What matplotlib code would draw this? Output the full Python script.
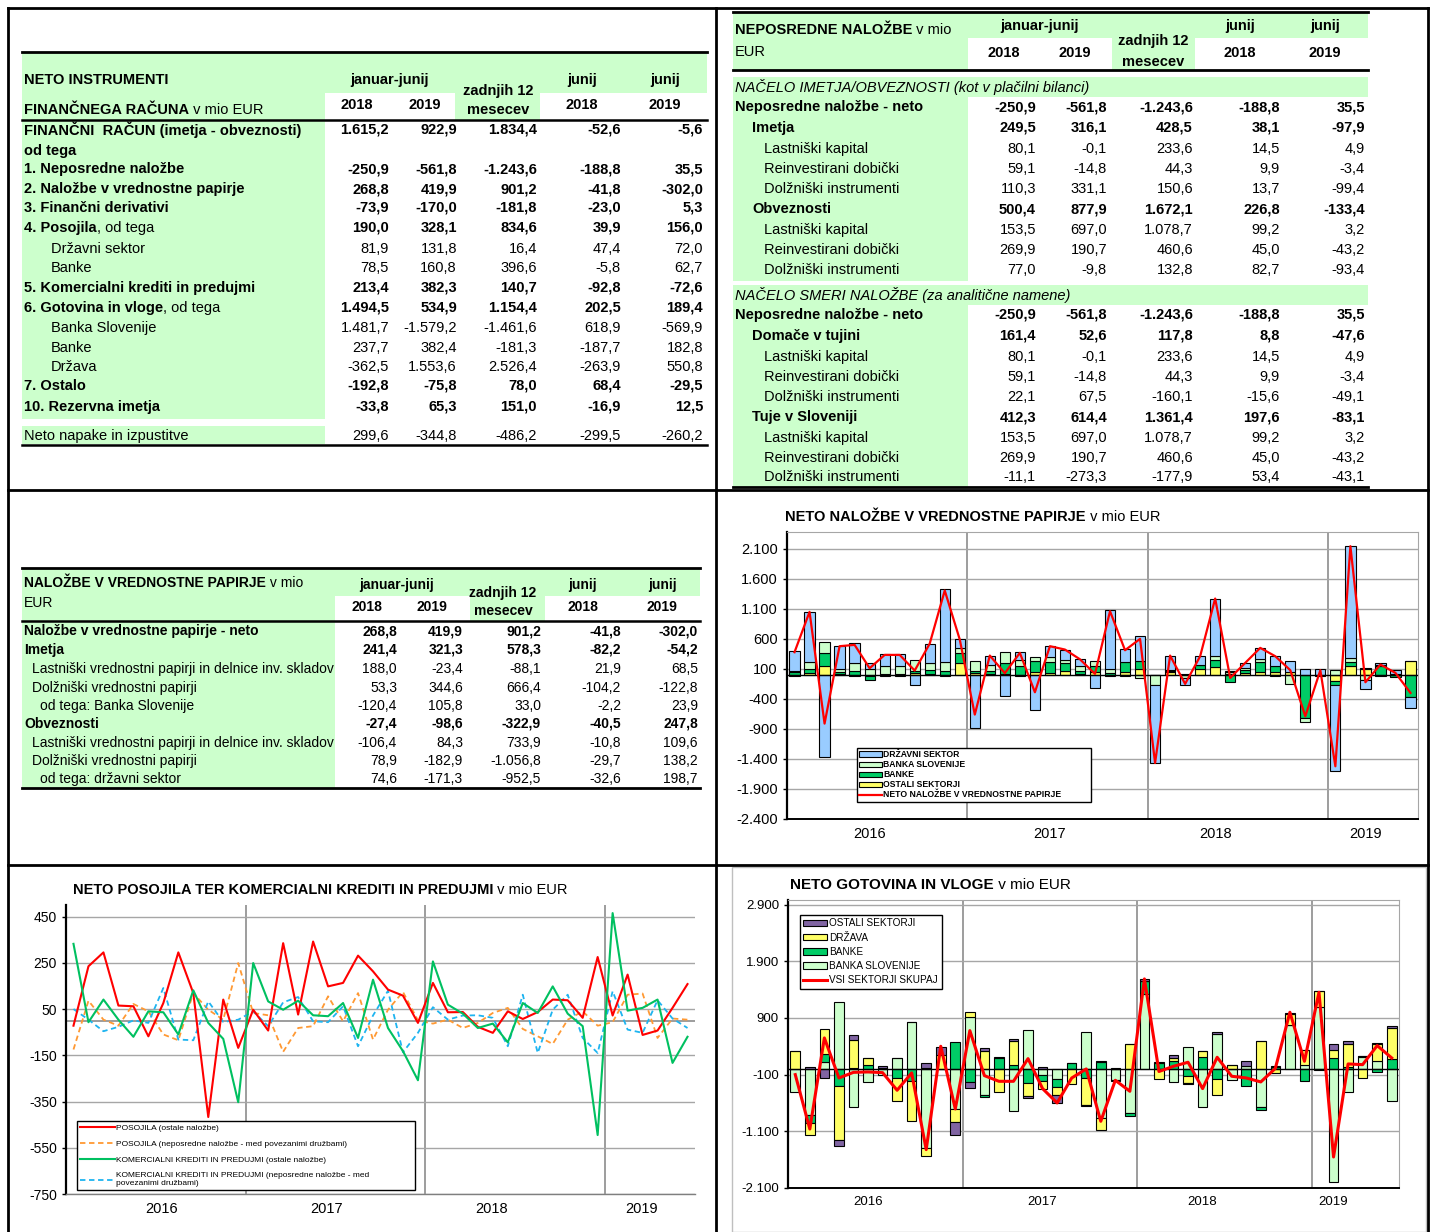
import matplotlib
matplotlib.use('Agg')
import matplotlib.pyplot as plt
from matplotlib.patches import Rectangle
from matplotlib.lines import Line2D
from matplotlib import font_manager
import numpy as np

# ---------------- DATA ----------------
cols_hdr = ["2018", "2019", "2018", "2019"]

# Top-left table: NETO INSTRUMENTI FINANČNEGA RAČUNA
tl_labels = ["FINANČNI  RAČUN (imetja - obveznosti)", "od tega", "1. Neposredne naložbe",
             "2. Naložbe v vrednostne papirje", "3. Finančni derivativi", "4. Posojila",
             "Državni sektor", "Banke", "5. Komercialni krediti in predujmi",
             "6. Gotovina in vloge", "Banka Slovenije", "Banke", "Država", "7. Ostalo",
             "10. Rezervna imetja", "Neto napake in izpustitve"]
tl_suffix = ["", "", "", "", "", ", od tega", "", "", "", ", od tega", "", "", "", "", "", ""]
tl_bold = [1, 1, 1, 1, 1, 1, 0, 0, 1, 1, 0, 0, 0, 1, 1, 0]
tl_jj2018 = [1615.2, None, -250.9, 268.8, -73.9, 190.0, 81.9, 78.5, 213.4, 1494.5, 1481.7, 237.7, -362.5, -192.8, -33.8, 299.6]
tl_jj2019 = [922.9, None, -561.8, 419.9, -170.0, 328.1, 131.8, 160.8, 382.3, 534.9, -1579.2, 382.4, 1553.6, -75.8, 65.3, -344.8]
tl_12m = [1834.4, None, -1243.6, 901.2, -181.8, 834.6, 16.4, 396.6, 140.7, 1154.4, -1461.6, -181.3, 2526.4, 78.0, 151.0, -486.2]
tl_j2018 = [-52.6, None, -188.8, -41.8, -23.0, 39.9, 47.4, -5.8, -92.8, 202.5, 618.9, -187.7, -263.9, 68.4, -16.9, -299.5]
tl_j2019 = [-5.6, None, 35.5, -302.0, 5.3, 156.0, 72.0, 62.7, -72.6, 189.4, -569.9, 182.8, 550.8, -29.5, 12.5, -260.2]

# Top-right table: NEPOSREDNE NALOŽBE
tr_labels = ["NAČELO IMETJA/OBVEZNOSTI (kot v plačilni bilanci)", "Neposredne naložbe - neto", "Imetja",
             "Lastniški kapital", "Reinvestirani dobički", "Dolžniški instrumenti", "Obveznosti",
             "Lastniški kapital", "Reinvestirani dobički", "Dolžniški instrumenti",
             "NAČELO SMERI NALOŽBE (za analitične namene)", "Neposredne naložbe - neto", "Domače v tujini",
             "Lastniški kapital", "Reinvestirani dobički", "Dolžniški instrumenti", "Tuje v Sloveniji",
             "Lastniški kapital", "Reinvestirani dobički", "Dolžniški instrumenti"]
tr_kind = ["it", "b0", "b1", "r", "r", "r", "b1", "r", "r", "r",
           "it", "b0", "b1", "r", "r", "r", "b1", "r", "r", "r"]
tr_jj2018 = [None, -250.9, 249.5, 80.1, 59.1, 110.3, 500.4, 153.5, 269.9, 77.0,
             None, -250.9, 161.4, 80.1, 59.1, 22.1, 412.3, 153.5, 269.9, -11.1]
tr_jj2019 = [None, -561.8, 316.1, -0.1, -14.8, 331.1, 877.9, 697.0, 190.7, -9.8,
             None, -561.8, 52.6, -0.1, -14.8, 67.5, 614.4, 697.0, 190.7, -273.3]
tr_12m = [None, -1243.6, 428.5, 233.6, 44.3, 150.6, 1672.1, 1078.7, 460.6, 132.8,
          None, -1243.6, 117.8, 233.6, 44.3, -160.1, 1361.4, 1078.7, 460.6, -177.9]
tr_j2018 = [None, -188.8, 38.1, 14.5, 9.9, 13.7, 226.8, 99.2, 45.0, 82.7,
            None, -188.8, 8.8, 14.5, 9.9, -15.6, 197.6, 99.2, 45.0, 53.4]
tr_j2019 = [None, 35.5, -97.9, 4.9, -3.4, -99.4, -133.4, 3.2, -43.2, -93.4,
            None, 35.5, -47.6, 4.9, -3.4, -49.1, -83.1, 3.2, -43.2, -43.1]

# Middle-left table: NALOŽBE V VREDNOSTNE PAPIRJE
ml_labels = ["Naložbe v vrednostne papirje - neto", "Imetja",
             "Lastniški vrednostni papirji in delnice inv. skladov", "Dolžniški vrednostni papirji",
             "od tega: Banka Slovenije", "Obveznosti",
             "Lastniški vrednostni papirji in delnice inv. skladov", "Dolžniški vrednostni papirji",
             "od tega: državni sektor"]
ml_kind = ["b0", "b0", "r1", "r1", "r2", "b0", "r1", "r1", "r2"]
ml_jj2018 = [268.8, 241.4, 188.0, 53.3, -120.4, -27.4, -106.4, 78.9, 74.6]
ml_jj2019 = [419.9, 321.3, -23.4, 344.6, 105.8, -98.6, 84.3, -182.9, -171.3]
ml_12m = [901.2, 578.3, -88.1, 666.4, 33.0, -322.9, 733.9, -1056.8, -952.5]
ml_j2018 = [-41.8, -82.2, 21.9, -104.2, -2.2, -40.5, -10.8, -29.7, -32.6]
ml_j2019 = [-302.0, -54.2, 68.5, -122.8, 23.9, 247.8, 109.6, 138.2, 198.7]

# Chart: NETO NALOŽBE V VREDNOSTNE PAPIRJE (monthly, Jan 2016 - Jun 2019)
years = ["2016", "2017", "2018", "2019"]
vp_ostali = [-25, 28, 144, 20, -25, -10, -15, -10, 35, 10, -25, 190,
             30, 10, 10, -10, 45, 35, 60, 15, 45, -15, 50, 100,
             0, 40, 0, 90, 135, 10, 30, 45, 50, 45, 0, 0,
             -95, 155, 100, -20, 0, 225]
vp_banke = [50, 67, 222, 30, 60, -80, 15, 20, 30, 65, 65, 180,
            40, 60, 180, 145, 185, 185, 140, 55, 110, 25, 165, 135,
            0, 20, 20, 70, 120, -110, 45, 170, 95, 10, -720, -15,
            -70, 60, 10, 150, -40, -365]
vp_bs = [15, 128, 183, 40, 130, 90, 125, 135, 175, 120, 150, 80,
         160, 90, 190, 110, 70, 70, 55, 80, 75, 80, -15, -50,
         -170, 20, -45, 10, 55, 30, 40, 50, -10, -150, -60, 0,
         85, 65, -90, 10, 10, 10]
vp_drzava = [340, 822, -1367, 390, 340, 110, 205, 185, -170, 325, 1215, 140,
             -890, 160, -356, 120, -590, 190, 165, 110, -215, 970, 210, 415,
             -1295, 240, -125, 150, 960, 20, 85, 185, 175, 175, 90, 95,
             -1430, 1865, -145, 30, 65, -180]
vp_neto = [378, 1050, -811, 478, 500, 111, 333, 333, 72, 522, 1405, 589,
           -661, 322, 28, 367, -289, 478, 422, 260, 17, 1061, 411, 600,
           -1467, 322, -150, 311, 1272, -50, 200, 450, 311, 78, -689, 78,
           -1522, 2144, -122, 172, 33, -300]

# Chart: NETO POSOJILA TER KOMERCIALNI KREDITI IN PREDUJMI
pos_ostale = [-22, 235, 295, 65, 62, -68, 76, 295, 119, -417, 91, -118,
              47, -43, 335, 26, 342, 148, 163, 281, 213, 134, 108, -10,
              163, 36, 37, -27, -53, 40, 7, 37, 91, 88, 12, 275,
              22, 199, -62, -43, 55, 158]
pos_nep = [-125, 86, 4, -22, 72, 40, -60, -85, 119, 47, 4, 249,
           33, 23, -135, -32, -24, 105, -3, 119, -82, 47, 124, 1,
           -13, 4, -32, -10, 33, 55, -36, -68, -101, 4, 40, -22,
           -7, 112, 117, -75, 9, 4]
kk_ostale = [332, -7, 91, 4, -70, 40, 36, -60, 131, -10, -79, -353,
             249, 83, 47, 86, 23, 19, 76, -75, 177, -32, -132, -258,
             256, 69, 30, -32, -13, -94, 76, 33, 148, 30, -24, -495,
             465, 43, 55, 91, -183, -70]
kk_nep = [50, 4, -46, -27, 1, -10, 141, -82, -85, 83, -6, 4,
          40, -24, 79, 102, -3, -7, 62, -111, 22, 129, -137, -53,
          58, 4, 22, 23, 12, -111, 112, -140, 47, 112, -75, -140,
          127, -39, -53, 88, 9, -32]

# Chart: NETO GOTOVINA IN VLOGE
gv_bs = [-412, -806, 118, 1182, -670, -235, -115, 194, 823, -1394, 0, -706,
         912, -453, 0, -747, 682, -110, -176, 0, 653, -865, -200, -776,
         1330, 0, -229, 382, -670, 618, -200, 59, -670, 0, 782, 76,
         1088, -1994, -406, 212, 135, -559]
gv_banke = [0, -147, 147, -294, 24, 76, 20, -159, -206, 18, 0, 470,
            -229, -41, 194, 76, -247, -94, -141, 110, -159, 118, -20, -59,
            230, 106, 135, -118, 206, -176, 0, -294, -47, 40, 0, -218,
            -24, 194, 35, 24, -47, 176]
gv_drzava = [312, -206, 441, -965, 482, 118, 0, -400, -706, -135, 253, -229,
             94, 323, -412, 412, -235, -153, -141, -270, -471, -206, 0, 447,
             0, -176, 59, -129, 106, -288, 70, 0, 488, -70, 194, 265,
             282, 147, 400, -159, 312, 541]
gv_ostali = [0, 30, -159, -94, 88, 0, 30, 0, 0, 88, 135, -235,
             -106, 47, 18, 47, -24, 30, -141, 0, -24, 20, 20, 0,
             20, 10, 59, -18, 0, 29, 0, 76, 0, 18, 18, 0,
             0, 106, 53, 0, 12, 47]
gv_skupaj = [-100, -1060, 547, -159, -60, -53, -65, -376, -70, -1423, 400, -706,
             676, -118, -218, -218, 182, -347, -600, -160, 0, -923, -200, -394,
             1588, -45, 47, 118, -347, 206, -129, -159, -229, 10, 1000, 135,
             1353, -1553, 88, 76, 412, 194]

# ---------------- STYLE / HELPERS ----------------
W, H = 1437, 1232
try:
    font_manager.findfont('Liberation Sans Narrow', fallback_to_default=False)
    NARROW = 'Liberation Sans Narrow'
except Exception:
    NARROW = 'Liberation Sans'
SANS = 'Liberation Sans'
GREEN_BG = '#CCFFCC'

fig = plt.figure(figsize=(W / 100, H / 100), dpi=100)
fig.patch.set_facecolor('white')
renderer = fig.canvas.get_renderer()


def fx(x):
    return x / W


def fy(y):
    return 1 - y / H


def rect(x0, y0, x1, y1, color=GREEN_BG, ec='none', lw=0, z=0):
    fig.add_artist(Rectangle((fx(x0), fy(y1)), (x1 - x0) / W, (y1 - y0) / H,
                             transform=fig.transFigure, facecolor=color, edgecolor=ec,
                             lw=lw, zorder=z))


def hline(x0, x1, y, lw=1.5, color='black'):
    fig.add_artist(Line2D([fx(x0), fx(x1)], [fy(y), fy(y)], color=color, lw=lw,
                          transform=fig.transFigure, zorder=5))


def vline(x, y0, y1, lw=1.5, color='black'):
    fig.add_artist(Line2D([fx(x), fx(x)], [fy(y0), fy(y1)], color=color, lw=lw,
                          transform=fig.transFigure, zorder=5))


def txt(x, y, s, size=10.5, weight='normal', style='normal', ha='left', family=NARROW):
    return fig.text(fx(x), fy(y), s, fontsize=size, fontweight=weight, fontstyle=style,
                    ha=ha, va='center', family=family, zorder=6)


def rich(x, y, parts, size=10.5, family=NARROW):
    cx = x
    for s, w in parts:
        t = txt(cx, y, s, size=size, weight=w, family=family)
        cx += t.get_window_extent(renderer=renderer).width


def fmt(v):
    s = f"{abs(v):,.1f}".replace(',', 'X').replace('.', ',').replace('X', '.')
    return ('-' if v < 0 else '') + s


def fmt_tick(v):
    s = f"{abs(int(v)):,}".replace(',', '.')
    return ('-' if v < 0 else '') + s


# ---------------- PANEL FRAME ----------------
vline(8, 8, 1232, lw=2)
vline(1428, 8, 1232, lw=2)
hline(8, 1428, 8, lw=2)
vline(716, 8, 1232, lw=2)
hline(8, 1428, 490, lw=2)
hline(8, 1428, 865, lw=2)

# ---------------- TOP-LEFT TABLE ----------------
rect(22, 53, 707, 120)
rect(325, 93, 455, 120, color='white')
rect(540, 93, 707, 120, color='white')
rect(22, 121, 325, 419)
rect(22, 426, 325, 444)
hline(22, 707, 52, lw=2)
hline(22, 707, 120, lw=1.8)
hline(22, 707, 445, lw=1.8)
FS = 10.5
txt(24, 80, "NETO INSTRUMENTI", size=FS, weight='bold')
rich(24, 110, [("FINANČNEGA RAČUNA", 'bold'), (" v mio EUR", 'normal')], size=FS)
txt(390, 80, "januar-junij", size=FS, weight='bold', ha='center')
txt(357, 105, cols_hdr[0], size=FS, weight='bold', ha='center')
txt(425, 105, cols_hdr[1], size=FS, weight='bold', ha='center')
txt(498, 91, "zadnjih 12", size=FS, weight='bold', ha='center')
txt(498, 110, "mesecev", size=FS, weight='bold', ha='center')
txt(582, 80, "junij", size=FS, weight='bold', ha='center')
txt(582, 105, cols_hdr[2], size=FS, weight='bold', ha='center')
txt(665, 80, "junij", size=FS, weight='bold', ha='center')
txt(665, 105, cols_hdr[3], size=FS, weight='bold', ha='center')

tl_y = [130, 151, 169, 189, 208, 228, 249, 268, 288, 308, 328, 348, 367, 386, 407, 436]
tl_xr = [389, 457, 537, 621, 703]
for i, lab in enumerate(tl_labels):
    w = 'bold' if tl_bold[i] else 'normal'
    x0 = 24 if tl_bold[i] or i == len(tl_labels) - 1 else 51
    if tl_suffix[i]:
        rich(x0, tl_y[i], [(lab, 'bold'), (tl_suffix[i], 'normal')], size=FS)
    else:
        txt(x0, tl_y[i], lab, size=FS, weight=w)
    for c, arr in enumerate([tl_jj2018, tl_jj2019, tl_12m, tl_j2018, tl_j2019]):
        if arr[i] is not None:
            txt(tl_xr[c], tl_y[i], fmt(arr[i]), size=FS, weight=w, ha='right')

# ---------------- TOP-RIGHT TABLE ----------------
rect(733, 13, 1368, 70)
rect(968, 38, 1112, 70, color='white')
rect(1195, 38, 1368, 70, color='white')
hline(733, 1368, 12, lw=2)
hline(733, 1368, 70, lw=2)
hline(733, 1368, 487, lw=2)
txt(1040, 26, "januar-junij", size=FS, weight='bold', ha='center')
txt(1004, 53, cols_hdr[0], size=FS, weight='bold', ha='center')
txt(1075, 53, cols_hdr[1], size=FS, weight='bold', ha='center')
txt(1153, 41, "zadnjih 12", size=FS, weight='bold', ha='center')
txt(1153, 62, "mesecev", size=FS, weight='bold', ha='center')
txt(1240, 26, "junij", size=FS, weight='bold', ha='center')
txt(1240, 53, cols_hdr[2], size=FS, weight='bold', ha='center')
txt(1325, 26, "junij", size=FS, weight='bold', ha='center')
txt(1325, 53, cols_hdr[3], size=FS, weight='bold', ha='center')
rich(735, 30, [("NEPOSREDNE NALOŽBE", 'bold'), (" v mio", 'normal')], size=FS)
txt(735, 52, "EUR", size=FS)

tr_y = [87, 107, 128, 149, 169, 189, 209, 230, 250, 270,
        295, 315, 336, 357, 377, 397, 417, 438, 458, 477]
tr_xr = [1036, 1107, 1193, 1280, 1365]
for i, lab in enumerate(tr_labels):
    k = tr_kind[i]
    yy = tr_y[i]
    if k == 'it':
        rect(733, yy - 10, 1368, yy + 10)
        txt(735, yy, lab, size=FS, style='italic')
        continue
    rect(733, yy - 10.5, 968, yy + 10.5)
    if k == 'b0':
        txt(735, yy, lab, size=FS, weight='bold')
    elif k == 'b1':
        txt(752, yy, lab, size=FS, weight='bold')
    else:
        txt(764, yy, lab, size=FS)
    w = 'bold' if k in ('b0', 'b1') else 'normal'
    for c, arr in enumerate([tr_jj2018, tr_jj2019, tr_12m, tr_j2018, tr_j2019]):
        txt(tr_xr[c], yy, fmt(arr[i]), size=FS, weight=w, ha='right')

# ---------------- MIDDLE-LEFT TABLE ----------------
rect(22, 569, 700, 621)
rect(335, 596, 470, 621, color='white')
rect(545, 596, 700, 621, color='white')
rect(22, 622, 335, 788)
hline(22, 700, 568, lw=2)
hline(22, 700, 621, lw=1.8)
hline(22, 700, 788, lw=2)
FS2 = 10
rich(24, 583, [("NALOŽBE V VREDNOSTNE PAPIRJE", 'bold'), (" v mio", 'normal')], size=FS2)
txt(24, 603, "EUR", size=FS2)
txt(397, 585, "januar-junij", size=FS2, weight='bold', ha='center')
txt(367, 607, cols_hdr[0], size=FS2, weight='bold', ha='center')
txt(432, 607, cols_hdr[1], size=FS2, weight='bold', ha='center')
txt(503, 593, "zadnjih 12", size=FS2, weight='bold', ha='center')
txt(503, 611, "mesecev", size=FS2, weight='bold', ha='center')
txt(583, 585, "junij", size=FS2, weight='bold', ha='center')
txt(583, 607, cols_hdr[2], size=FS2, weight='bold', ha='center')
txt(662, 585, "junij", size=FS2, weight='bold', ha='center')
txt(662, 607, cols_hdr[3], size=FS2, weight='bold', ha='center')
ml_y = [631, 650, 669, 688, 706, 724, 743, 761, 779]
ml_xr = [397, 463, 541, 621, 698]
for i, lab in enumerate(ml_labels):
    k = ml_kind[i]
    w = 'bold' if k == 'b0' else 'normal'
    x0 = {'b0': 24, 'r1': 32, 'r2': 40}[k]
    txt(x0, ml_y[i], lab, size=FS2, weight=w)
    for c, arr in enumerate([ml_jj2018, ml_jj2019, ml_12m, ml_j2018, ml_j2019]):
        txt(ml_xr[c], ml_y[i], fmt(arr[i]), size=FS2, weight=w, ha='right')


# ---------------- CHART HELPERS ----------------
def make_ax(x0, y0, x1, y1):
    return fig.add_axes([fx(x0), fy(y1), (x1 - x0) / W, (y1 - y0) / H])


def stacked(ax, x, series, colors, labels, width):
    pos = np.zeros(len(x))
    neg = np.zeros(len(x))
    handles = []
    for vals, col, lab in zip(series, colors, labels):
        v = np.array(vals, dtype=float)
        bottom = np.where(v >= 0, pos, neg)
        b = ax.bar(x, v, width, bottom=bottom, color=col, edgecolor='black', lw=0.8,
                   label=lab, zorder=3)
        handles.append(b)
        pos = pos + np.where(v >= 0, v, 0)
        neg = neg + np.where(v < 0, v, 0)
    return handles


def style_ax(ax, yt, ylim, ysize, xsize, xpos, frame_gray=True):
    ax.set_xlim(0, 42)
    ax.set_ylim(*ylim)
    ax.set_yticks(yt)
    ax.set_yticklabels([fmt_tick(v) for v in yt], fontsize=ysize, family=SANS)
    ax.set_xticks(xpos)
    ax.set_xticklabels(years, fontsize=xsize, family=SANS)
    ax.tick_params(axis='x', length=0, pad=6)
    ax.tick_params(axis='y', length=3, width=1)
    ax.grid(axis='y', color='#A6A6A6', lw=1, zorder=0)
    for xv in (12, 24, 36):
        ax.axvline(xv, color='#8C8C8C', lw=1.2, zorder=1)
    for s in ('top', 'right'):
        ax.spines[s].set_color('#A6A6A6')
        ax.spines[s].set_visible(frame_gray)
    ax.spines['left'].set_color('black')
    ax.spines['left'].set_linewidth(1.6)
    ax.spines['bottom'].set_color('black')
    ax.spines['bottom'].set_linewidth(1.4)
    ax.set_facecolor('white')


x = np.arange(42) + 0.5

# ---------------- CHART: NETO NALOŽBE V VP ----------------
ax1 = make_ax(787, 532, 1418, 819)
style_ax(ax1, list(range(-2400, 2101, 500)), (-2400, 2380), 10.5, 10.5,
         [5.5, 17.5, 28.5, 38.5])
h1 = stacked(ax1, x, [vp_ostali, vp_banke, vp_bs, vp_drzava],
             ['#FFFF66', '#00CC66', '#CCFFCC', '#99CCFF'],
             ['OSTALI SEKTORJI', 'BANKE', 'BANKA SLOVENIJE', 'DRŽAVNI SEKTOR'], 0.68)
ax1.axhline(0, color='black', lw=1, zorder=4)
l1, = ax1.plot(x, vp_neto, color='#FF0000', lw=1.6, zorder=5,
               label='NETO NALOŽBE V VREDNOSTNE PAPIRJE')
ax1.legend([h1[3], h1[2], h1[1], h1[0], l1],
           ['DRŽAVNI SEKTOR', 'BANKA SLOVENIJE', 'BANKE', 'OSTALI SEKTORJI',
            'NETO NALOŽBE V VREDNOSTNE PAPIRJE'],
           loc='upper left', bbox_to_anchor=(0.111, 0.066, 0.37, 0.181), mode='expand',
           prop={'family': SANS, 'weight': 'bold', 'size': 6.2}, fancybox=False,
           edgecolor='black', framealpha=1, borderpad=0.25, labelspacing=0.12,
           handlelength=2.6, handleheight=0.6, handletextpad=0.2, borderaxespad=0)
rich(785, 517, [("NETO NALOŽBE V VREDNOSTNE PAPIRJE", 'bold'), (" v mio EUR", 'normal')],
     size=10.5, family=SANS)

# ---------------- CHART: POSOJILA / KOMERCIALNI KREDITI ----------------
ax2 = make_ax(66, 905, 695, 1194)
style_ax(ax2, list(range(-750, 451, 200)), (-750, 500), 10, 10.5,
         [6.4, 17.4, 28.4, 38.4], frame_gray=False)
ax2.spines['bottom'].set_color('#7F7F7F')
ax2.spines['bottom'].set_linewidth(1)
ax2.axhline(0, color='#8C8C8C', lw=1.2, zorder=1)
la, = ax2.plot(x, pos_ostale, color='#FF0000', lw=1.5, zorder=5)
lb, = ax2.plot(x, pos_nep, color='#FF9933', lw=1.3, ls=(0, (3, 2)), zorder=4)
lc, = ax2.plot(x, kk_ostale, color='#00C060', lw=1.5, zorder=5)
ld, = ax2.plot(x, kk_nep, color='#1EB4F0', lw=1.3, ls=(0, (3, 2)), zorder=4)
ax2.legend([la, lb, lc, ld],
           ['POSOJILA (ostale naložbe)',
            'POSOJILA (neposredne naložbe - med povezanimi družbami)',
            'KOMERCIALNI KREDITI IN PREDUJMI (ostale naložbe)',
            'KOMERCIALNI KREDITI IN PREDUJMI (neposredne naložbe - med\npovezanimi družbami)'],
           loc='lower left', bbox_to_anchor=(0.0175, 0.014, 0.537, 0.242), mode='expand',
           prop={'family': SANS, 'size': 6.0}, fancybox=False, edgecolor='black',
           framealpha=1, borderpad=0.3, labelspacing=1.0, handlelength=4.2,
           handletextpad=0.2, borderaxespad=0)
rich(73, 890, [("NETO POSOJILA TER KOMERCIALNI KREDITI IN PREDUJMI", 'bold'),
               (" v mio EUR", 'normal')], size=10.5, family=SANS)

# ---------------- CHART: NETO GOTOVINA IN VLOGE ----------------
rect(732, 867, 1426, 1232, color='none', ec='#BFBFBF', lw=1, z=1)
ax3 = make_ax(788, 900, 1399, 1188)
style_ax(ax3, list(range(-2100, 2901, 1000)), (-2100, 2980), 9.5, 9.5,
         [5.5, 17.5, 28.5, 37.5])
h3 = stacked(ax3, x, [gv_bs, gv_banke, gv_drzava, gv_ostali],
             ['#CCFFCC', '#00CC66', '#FFFF66', '#8064A2'],
             ['BANKA SLOVENIJE', 'BANKE', 'DRŽAVA', 'OSTALI SEKTORJI'], 0.66)
ax3.axhline(0, color='black', lw=1, zorder=4)
l3, = ax3.plot(x, gv_skupaj, color='#FF0000', lw=2.2, zorder=5)
ax3.legend([h3[3], h3[2], h3[1], h3[0], l3],
           ['OSTALI SEKTORJI', 'DRŽAVA', 'BANKE', 'BANKA SLOVENIJE', 'VSI SEKTORJI SKUPAJ'],
           loc='upper left', bbox_to_anchor=(0.0196, 0.948), prop={'family': SANS, 'size': 7.2},
           fancybox=False, edgecolor='black', framealpha=1, borderpad=0.35,
           labelspacing=0.42, handlelength=2.4, handleheight=0.6, handletextpad=0.2,
           borderaxespad=0)
rich(790, 885, [("NETO GOTOVINA IN VLOGE", 'bold'), (" v mio EUR", 'normal')],
     size=11, family=SANS)

fig.savefig('out.png', dpi=100, facecolor='white')
